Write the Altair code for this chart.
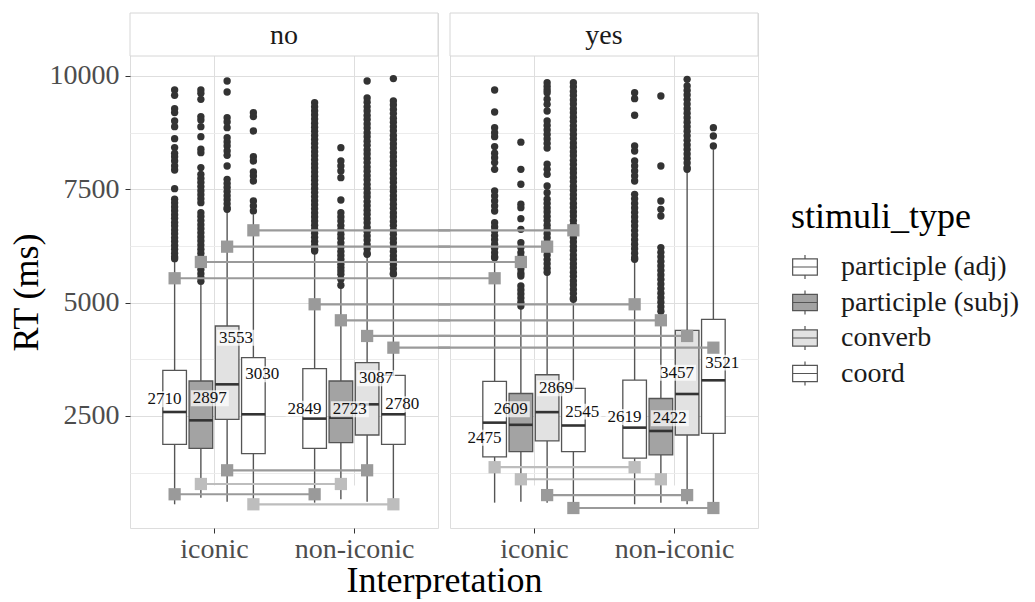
import json
import altair as alt
import pandas as pd

FONT = "Liberation Serif"

panels = ["no", "yes"]
interps = ["iconic", "non-iconic"]
stims = ["participle (adj)", "participle (subj)", "converb", "coord"]
fills = ["#ffffff", "#a3a3a3", "#e2e2e2", "#ffffff"]

# box statistics, order: panel -> interpretation -> stimuli_type
box_lo = [552, 698, 610, 477, 588, 662, 610, 588,
          588, 610, 588, 552, 552, 588, 552, 530]
box_q1 = [1875, 1787, 2427, 1669, 1787, 1912, 2081, 1875,
          1596, 1713, 1949, 1713, 1570, 1640, 2081, 2115]
box_med = [2588, 2404, 3198, 2537, 2442, 2463, 2757, 2537,
           2353, 2305, 2585, 2290, 2243, 2169, 2985, 3287]
box_q3 = [3508, 3272, 4485, 3787, 3545, 3272, 3677, 3397,
          3265, 2996, 3410, 3107, 3290, 2886, 4390, 4633]
box_hi = [5900, 5400, 7000, 6950, 6100, 5330, 6030, 5600,
          5950, 4880, 5620, 5030, 5900, 4760, 7900, 8380]

# mean labels and where they sit
means = [2710, 2897, 3553, 3030, 2849, 2723, 3087, 2780,
         2475, 2609, 2869, 2545, 2619, 2422, 3457, 3521]
label_y = [2868, 2890, 4228, 3419, 2662, 2647, 3331, 2757,
           2022, 2647, 3111, 2596, 2478, 2449, 3455, 3677]
label_side = ["L", "R", "R", "R", "L", "R", "R", "R",
              "L", "L", "R", "R", "L", "R", "L", "R"]

outliers = [
    # no / iconic
    [9692, 9574, 9280, 9192, 9008, 8883, 8618, 8420, 8294, 8221, 8125, 8015, 7927, 7515,
     7280, 7200, 7110, 7030, 6940, 6860, 6770, 6690, 6600, 6520, 6430, 6350, 6260, 6180,
     6090, 6010, 5970],
    [9692, 9618, 9485, 9104, 9031, 8882, 8662, 8383, 8309, 7979, 7831, 7740, 7650, 7560,
     7470, 7380, 7290, 7206, 6985, 6900, 6810, 6720, 6630, 6540, 6450, 6360, 6270, 6180,
     6090, 6000, 5910, 5820, 5730, 5640, 5550, 5470],
    [9890, 9647, 9081, 8986, 8861, 8640, 8545, 8456, 8346, 8250, 8015, 7721, 7630, 7540,
     7450, 7360, 7270, 7180, 7090, 7060],
    [9191, 9104, 8787, 8221, 8125, 7883, 7794, 7684, 7243, 7133, 7023],
    # no / non-iconic
    [9412, 9320, 9230, 9140, 9050, 8960, 8870, 8780, 8690, 8600, 8510, 8420, 8330, 8240,
     8150, 8060, 7970, 7880, 7790, 7700, 7610, 7520, 7430, 7340, 7250, 7160, 7070, 6980,
     6890, 6800, 6710, 6620, 6530, 6440, 6350, 6260, 6170, 6140],
    [8419, 8125, 8015, 7905, 7758, 7265, 6985, 6890, 6800, 6700, 6610, 6510, 6420, 6320,
     6230, 6130, 6040, 5956, 5846, 5773, 5699, 5625, 5515, 5383],
    [9890, 9515, 9420, 9320, 9230, 9130, 9040, 8940, 8850, 8750, 8660, 8560, 8470, 8370,
     8280, 8180, 8090, 7990, 7900, 7800, 7710, 7610, 7520, 7420, 7330, 7230, 7140, 7040,
     6950, 6850, 6760, 6660, 6570, 6470, 6380, 6280, 6190, 6090, 6066],
    [9942, 9449, 9360, 9260, 9170, 9070, 8980, 8880, 8790, 8690, 8600, 8500, 8410, 8310,
     8220, 8120, 8030, 7930, 7840, 7740, 7650, 7550, 7460, 7360, 7270, 7170, 7080, 6980,
     6890, 6790, 6700, 6600, 6510, 6410, 6320, 6220, 6130, 6030, 5940, 5840, 5750, 5650,
     5625],
    # yes / iconic
    [9692, 9206, 8861, 8750, 8662, 8442, 8295, 8199, 8089, 7941, 7464, 7353, 7243, 7133,
     7022, 6765, 6670, 6580, 6480, 6390, 6290, 6200, 6100, 6010, 5993],
    [8540, 7941, 7611, 7170, 7096, 6853, 6618, 6324, 6214, 6103, 6010, 5920, 5830, 5740,
     5650, 5589, 5368, 5280, 5190, 5100, 5010, 4927],
    [9853, 9770, 9690, 9633, 9486, 9375, 9228, 9008, 8910, 8810, 8710, 8610, 8510, 8410,
     8052, 7941, 7831, 7574, 7427, 7280, 7190, 7090, 7000, 6900, 6810, 6710, 6620, 6520,
     6430, 6330, 6240, 6140, 6050, 5950, 5860, 5760, 5670],
    [9853, 9760, 9660, 9570, 9470, 9380, 9280, 9190, 9090, 9000, 8900, 8810, 8710, 8620,
     8520, 8430, 8330, 8240, 8140, 8050, 7950, 7860, 7760, 7670, 7570, 7480, 7380, 7290,
     7190, 7100, 7000, 6910, 6810, 6720, 6620, 6530, 6430, 6340, 6240, 6150, 6050, 5960,
     5860, 5770, 5670, 5580, 5480, 5390, 5290, 5200, 5100, 5074],
    # yes / non-iconic
    [9633, 9500, 9133, 8456, 8346, 8125, 8015, 7905, 7794, 7684, 7390, 7290, 7190, 7090,
     6990, 6890, 6790, 6690, 6590, 6490, 6390, 6290, 6190, 6090, 5990, 5956],
    [9559, 8015, 7243, 7059, 6912, 6214, 6110, 6010, 5910, 5810, 5710, 5610, 5510, 5410,
     5310, 5210, 5110, 5010, 4910, 4810],
    [9927, 9780, 9680, 9580, 9480, 9380, 9280, 9180, 9080, 8980, 8880, 8780, 8680, 8580,
     8480, 8380, 8280, 8180, 8080, 7980, 7941],
    [8861, 8677, 8456],
]

# grey markers: upper ones joined across panels (per interpretation x stimuli_type)
marker_upper = [[5538, 5897, 6235, 6596], [4964, 4611, 4265, 4007]]
# lower ones joined across interpretations (per panel x stimuli_type)
marker_lower = [[773, 1000, 1302, 552], [1370, 1104, 755, 470]]
marker_lower_tone = [["dark", "light", "dark", "light"], ["light", "light", "dark", "dark"]]

# ---------------------------------------------------------------- tables
DODGE = 0.75 / 4
HALF = 0.9 * DODGE / 2
NUDGE = {"L": -0.072, "R": 0.064}

box_rows, out_rows, up_rows, low_rows = [], [], [], []
n = 0
for pi, p in enumerate(panels):
    for ii, it in enumerate(interps):
        for k, s in enumerate(stims):
            x = ii + 1 + (k - 1.5) * DODGE
            box_rows.append(dict(panel=p, interp=it, stim=s, x=x, x_lo=x - HALF, x_hi=x + HALF,
                                 lo=box_lo[n], q1=box_q1[n], med=box_med[n], q3=box_q3[n],
                                 hi=box_hi[n], mean=means[n], ly=label_y[n],
                                 lx=x + NUDGE[label_side[n]]))
            for v in outliers[n]:
                out_rows.append(dict(panel=p, stim=s, x=x, value=v))
            up_rows.append(dict(panel=p, stim=s, x=x, value=marker_upper[ii][k], tone="dark"))
            n += 1
    for k, s in enumerate(stims):
        low_rows.append(dict(panel=p, stim=s, x_ic=1 + (k - 1.5) * DODGE,
                             x_nic=2 + (k - 1.5) * DODGE, value=marker_lower[pi][k],
                             tone=marker_lower_tone[pi][k]))

boxes = pd.DataFrame(box_rows)
outs = pd.DataFrame(out_rows)
ups = pd.DataFrame(up_rows)
lows = pd.DataFrame(low_rows)

W, H, STRIP, GAP = 308, 515, 43, 12
GRID_VALUES = [1250, 2500, 3750, 5000, 6250, 7500, 8750, 10000]
MAJOR = "datum.value % 2500 === 0"

tone_scale = alt.Scale(domain=["dark", "light"], range=["#9a9a9a", "#bdbdbd"])
box_path = "M-0.95,-0.62H0.95V0.62H-0.95Z M-0.95,0H0.95 M0,-0.62V-0.92 M0,0.62V0.92"
legend = alt.Legend(title="stimuli_type", orient="none", legendX=661, legendY=187,
                    titleFontSize=36, titleFont=FONT, titleFontWeight="normal",
                    titleColor="#000000", titlePadding=17, titleLimit=400,
                    labelFontSize=28, labelFont=FONT, labelColor="#1a1a1a", labelLimit=400,
                    symbolType=box_path, symbolSize=676, symbolStrokeColor="#555555",
                    symbolStrokeWidth=1.2, symbolOpacity=1, rowPadding=5.5, labelOffset=22)


def panel_chart(pi, p):
    first = pi == 0
    x_kw = dict(values=[1, 2], labelExpr=json.dumps(interps) + "[datum.value - 1]",
                grid=True, gridColor="#dedede", domain=False, tickColor="#333333",
                tickSize=5, labelFont=FONT, labelFontSize=28, labelColor="#4d4d4d",
                labelPadding=2)
    if first:
        x_kw.update(title="Interpretation", titleX=W + GAP / 2, titleAlign="center",
                    titleFont=FONT, titleFontSize=36, titleFontWeight="normal",
                    titleColor="#000000", titlePadding=0)
    else:
        x_kw.update(title=None)
    x_axis = alt.Axis(**x_kw)
    grid_color = {"condition": {"test": MAJOR, "value": "#dedede"}, "value": "#ececec"}
    if first:
        y_axis = alt.Axis(values=GRID_VALUES, format="d",
                          labelExpr=MAJOR + " ? datum.label : ''",
                          tickOpacity={"condition": {"test": MAJOR, "value": 1}, "value": 0},
                          tickColor="#333333", tickSize=5, grid=True, gridColor=grid_color,
                          domain=False, labelFont=FONT, labelFontSize=28,
                          labelColor="#4d4d4d", labelPadding=6, title="RT (ms)",
                          titleFont=FONT, titleFontSize=36, titleFontWeight="normal",
                          titleColor="#000000", titlePadding=4)
    else:
        y_axis = alt.Axis(values=GRID_VALUES, labels=False, ticks=False, domain=False,
                          grid=True, gridColor=grid_color, title=None, minExtent=0,
                          maxExtent=0)
    xs = alt.Scale(domain=[0.4, 2.6], nice=False, zero=False)
    ys = alt.Scale(domain=[29, 10441], range=[H, STRIP], nice=False, zero=False)

    def X(f):
        return alt.X(f + ":Q", scale=xs, axis=x_axis)

    def Y(f):
        return alt.Y(f + ":Q", scale=ys, axis=y_axis)

    b = alt.Chart(boxes[boxes.panel == p])
    o = alt.Chart(outs[outs.panel == p])
    u = alt.Chart(ups[ups.panel == p])
    lw = alt.Chart(lows[lows.panel == p])
    strip_df = pd.DataFrame({"panel": [p]})

    strip = alt.Chart(strip_df).mark_rect(fill="white", stroke="#d6d6d6", strokeWidth=1).encode(
        x=alt.value(0), x2=alt.value(W), y=alt.value(0), y2=alt.value(STRIP))
    strip_text = alt.Chart(strip_df).mark_text(font=FONT, fontSize=28, color="#1a1a1a",
                                               baseline="middle").encode(
        text="panel:N", x=alt.value(W / 2), y=alt.value(STRIP / 2 + 1))

    wl = b.mark_rule(color="#555555", strokeWidth=1.4).encode(x=X("x"), y=Y("lo"), y2=alt.Y2("q1"))
    wh = b.mark_rule(color="#555555", strokeWidth=1.4).encode(x=X("x"), y=Y("q3"), y2=alt.Y2("hi"))
    rect = b.mark_rect(stroke="#555555", strokeWidth=1.3).encode(
        x=X("x_lo"), x2=alt.X2("x_hi"), y=Y("q1"), y2=alt.Y2("q3"),
        fill=alt.Fill("stim:N", scale=alt.Scale(domain=stims, range=fills), legend=legend))
    med = b.mark_rule(color="#333333", strokeWidth=2.6).encode(
        x=X("x_lo"), x2=alt.X2("x_hi"), y=Y("med"))
    pts = o.mark_circle(color="#333333", size=54, opacity=1).encode(x=X("x"), y=Y("value"))

    up_line = u.mark_rule(strokeWidth=2.2, color="#9a9a9a").encode(
        x=X("x"), x2=alt.value(W + GAP if first else -GAP), y=Y("value"))
    up_sq = u.mark_square(size=150, opacity=1).encode(
        x=X("x"), y=Y("value"), color=alt.Color("tone:N", scale=tone_scale, legend=None))
    low_line = lw.mark_rule(strokeWidth=2.2).encode(
        x=X("x_ic"), x2=alt.X2("x_nic"), y=Y("value"),
        color=alt.Color("tone:N", scale=tone_scale, legend=None))
    low_sq1 = lw.mark_square(size=150, opacity=1).encode(
        x=X("x_ic"), y=Y("value"), color=alt.Color("tone:N", scale=tone_scale, legend=None))
    low_sq2 = lw.mark_square(size=150, opacity=1).encode(
        x=X("x_nic"), y=Y("value"), color=alt.Color("tone:N", scale=tone_scale, legend=None))

    lab_bg = b.mark_point(shape="M-1,-0.42H1V0.42H-1Z", filled=True, fill="white",
                          opacity=0.72, size=1444, strokeWidth=0).encode(x=X("lx"), y=Y("ly"))
    lab = b.mark_text(font=FONT, fontSize=17, color="#111111", baseline="middle").encode(
        x=X("lx"), y=Y("ly"), text=alt.Text("mean:Q", format="d"))

    return alt.layer(strip, strip_text, wl, wh, rect, med, pts, up_line, low_line,
                     up_sq, low_sq1, low_sq2, lab_bg, lab).properties(width=W, height=H)


chart = alt.hconcat(panel_chart(0, "no"), panel_chart(1, "yes"),
                    spacing=GAP, bounds="flush").resolve_scale(
    fill="shared", color="shared", x="independent", y="independent"
).properties(
    padding={"left": 7, "top": 12, "right": 5, "bottom": 0}
).configure_view(stroke="#d6d6d6", strokeWidth=1).configure(font=FONT)

chart.save("out.html", embed_options={"renderer": "svg", "actions": False})
